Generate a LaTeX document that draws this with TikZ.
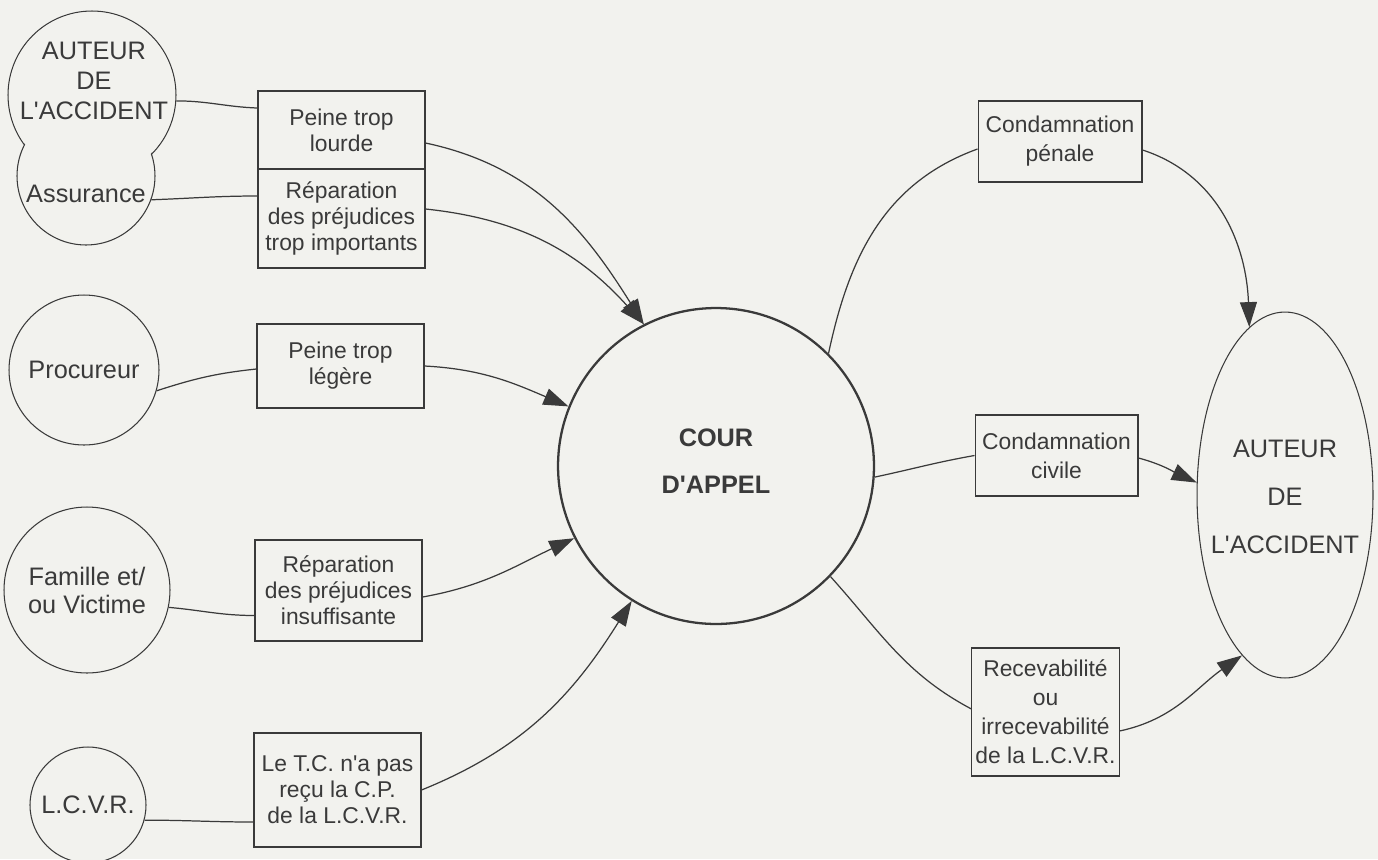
\documentclass[tikz,border=0pt]{standalone}
\usepackage{fontspec}
\setmainfont{Liberation Sans}
\usepackage{tikz}
\usetikzlibrary{arrows.meta,shapes.geometric}
\definecolor{paper}{RGB}{242,242,238}
\definecolor{ink}{RGB}{58,58,58}
\tikzset{
  boite/.style={draw=ink,line width=0.6pt,fill=paper,minimum width=3.34cm,align=center,inner sep=2pt,text=ink,font=\fontsize{13}{14.8}\selectfont},
  boited/.style={boite,font=\fontsize{13}{16.5}\selectfont},
  rond/.style={draw=ink,circle,line width=0.6pt,fill=paper,inner sep=0pt,align=center,text=ink,font=\fontsize{14.4}{16}\selectfont},
  texte/.style={align=center,inner sep=0pt,text=ink,font=\fontsize{14.4}{17}\selectfont},
  lien/.style={draw=ink,line width=0.7pt},
  fleche/.style={lien,-{Triangle[length=5mm,width=3.4mm]}}
}
\begin{document}
\begin{tikzpicture}[x=0.02cm,y=-0.02cm]
\useasboundingbox (0,0) rectangle (1378,859);
\fill[paper] (0,0) rectangle (1378,859);
% Left: parties
\node[rond,minimum size=3.36cm] (auteurA) at (92,95) {};
\node[rond,minimum size=2.76cm] (assur) at (86,176) {};
\fill[paper] (auteurA.center) circle ({1.68cm-0.6pt});
\node[texte] (auteurAtxt) at (94,81) {AUTEUR\\DE\\L\textquotesingle ACCIDENT};
\node[texte] (assurtxt) at (86,194) {Assurance};
\node[rond,minimum size=3.0cm] (proc) at (84,370) {Procureur};
\node[rond,minimum size=3.32cm] (famille) at (87,590) {Famille et/\\ou Victime};
\node[rond,minimum size=2.32cm] (lcvr) at (88,805) {L.C.V.R.};
% Left: motifs
\node[boite,minimum height=1.56cm] (lourde) at (341.5,130) {Peine trop\\lourde};
\node[boite,minimum height=1.98cm] (importants) at (341.5,218.5) {Réparation\\des préjudices\\trop importants};
\node[boite,minimum height=1.68cm] (legere) at (340.5,366) {Peine trop\\légère};
\node[boite,minimum height=2.02cm] (insuff) at (338.5,590.5) {Réparation\\des préjudices\\insuffisante};
\node[boite,minimum height=2.28cm] (tc) at (337.5,790) {Le T.C. n\textquotesingle a pas\\reçu la C.P.\\de la L.C.V.R.};
% Centre
\node[rond,line width=1.3pt,minimum size=6.32cm] (cour) at (716,466) {};
\node[texte,font=\fontsize{14.4}{27}\selectfont\bfseries] (courtxt) at (716,461) {COUR\\D\textquotesingle APPEL};
% Right
\node[boited,minimum width=3.28cm,minimum height=1.62cm] (penale) at (1060,141.5) {Condamnation\\pénale};
\node[boited,minimum width=3.26cm,minimum height=1.62cm] (civile) at (1056.5,455.5) {Condamnation\\civile};
\node[boited,minimum width=2.86cm,minimum height=2.56cm] (recev) at (1045.5,712) {Recevabilité\\ou\\irrecevabilité\\de la L.C.V.R.};
\node[draw=ink,ellipse,line width=0.6pt,inner sep=0pt,minimum width=3.52cm,minimum height=7.32cm] (auteurB) at (1285,495) {};
\node[texte,font=\fontsize{14.4}{27.5}\selectfont] (auteurBtxt) at (1285,497) {AUTEUR\\DE\\L\textquotesingle ACCIDENT};
% links
\draw[lien] (auteurA.-4) to[out=0,in=178] ([yshift=0.44cm]importants.west |- lourde.west);
\draw[lien] (assur.-20) to[out=2,in=180] ([yshift=0.45cm]importants.west);
\draw[lien] (proc.-16) to[out=18,in=186] ([yshift=-0.06cm]legere.west);
\draw[lien] (famille.-12) to[out=-5,in=180] ([yshift=-0.5cm]insuff.west);
\draw[lien] (lcvr.-15) to[out=0,in=180] ([yshift=-0.64cm]tc.west);
\draw[fleche] ([yshift=-0.26cm]lourde.east) to[out=-12,in=122] (cour.117);
\draw[fleche] ([yshift=0.19cm]importants.east) to[out=-6,in=132] (cour.117);
\draw[fleche] (legere.east) to[out=-3,in=157] (cour.158);
\draw[fleche] ([yshift=-0.13cm]insuff.east) to[out=10,in=-155] (cour.-153);
\draw[fleche] (tc.east) to[out=22,in=-122] (cour.-122);
\draw[lien] (cour.45) to[out=78,in=200] ([yshift=-0.15cm]penale.west);
\draw[fleche] ([yshift=-0.17cm]penale.east) to[out=-18,in=92] (auteurB.102);
\draw[lien] (cour.-4) to[out=12,in=190] (civile.west);
\draw[fleche] ([yshift=-0.05cm]civile.east) to[out=-15,in=155] (auteurB.172);
\draw[lien] (cour.-44) to[out=-48,in=152] ([yshift=0.06cm]recev.west);
\draw[fleche] ([yshift=-0.38cm]recev.east) to[out=12,in=-145] (auteurB.-105);
\end{tikzpicture}
\end{document}
